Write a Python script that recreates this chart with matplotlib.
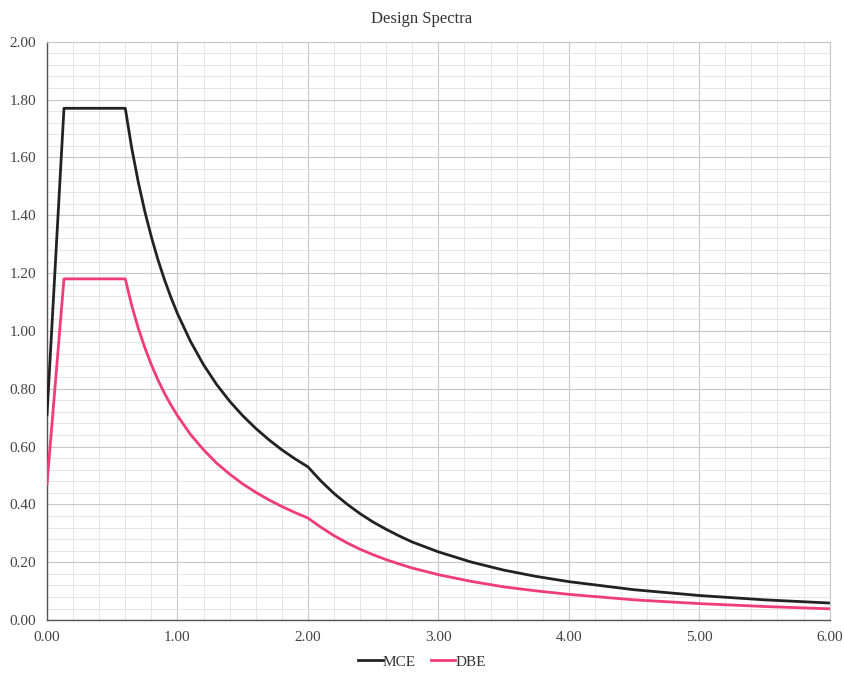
import numpy as np
import matplotlib
matplotlib.use("Agg")
import matplotlib.pyplot as plt
from matplotlib.ticker import MultipleLocator, FormatStrFormatter

# Period T (s) and spectral acceleration (g)
period = [0.0, 0.13, 0.6, 0.65, 0.7, 0.75, 0.8, 0.85, 0.9, 0.95, 1.0, 1.1, 1.2, 1.3, 1.4, 1.5,
          1.6, 1.7, 1.8, 1.9, 2.0, 2.1, 2.2, 2.3, 2.4, 2.5, 2.6, 2.7, 2.8, 3.0, 3.25, 3.5, 3.75,
          4.0, 4.5, 5.0, 5.5, 6.0]
mce = [0.71, 1.77, 1.77, 1.631, 1.514, 1.413, 1.325, 1.247, 1.178, 1.116, 1.06, 0.964, 0.883,
       0.815, 0.757, 0.707, 0.663, 0.624, 0.589, 0.558, 0.53, 0.481, 0.438, 0.401, 0.368, 0.339,
       0.314, 0.291, 0.27, 0.236, 0.201, 0.173, 0.151, 0.133, 0.105, 0.085, 0.07, 0.059]
dbe = [0.47, 1.18, 1.18, 1.087, 1.009, 0.942, 0.883, 0.831, 0.785, 0.744, 0.707, 0.642, 0.589,
       0.543, 0.505, 0.471, 0.442, 0.416, 0.393, 0.372, 0.353, 0.321, 0.292, 0.267, 0.245, 0.226,
       0.209, 0.194, 0.18, 0.157, 0.134, 0.115, 0.101, 0.089, 0.07, 0.057, 0.047, 0.039]

plt.rcParams['font.family'] = ['Liberation Serif', 'DejaVu Serif']

fig = plt.figure(figsize=(8.44, 6.74), dpi=100)
ax = fig.add_axes([0.0557, 0.080, 0.9273, 0.858])

ax.plot(period, mce, color='#222222', lw=2.0, label='MCE', zorder=3)
ax.plot(period, dbe, color='#f03c78', lw=2.0, label='DBE', zorder=3)

ax.set_xlim(0, 6)
ax.set_ylim(0, 2)
ax.xaxis.set_major_locator(MultipleLocator(1.0))
ax.xaxis.set_minor_locator(MultipleLocator(0.2))
ax.yaxis.set_major_locator(MultipleLocator(0.2))
ax.yaxis.set_minor_locator(MultipleLocator(0.04))
ax.xaxis.set_major_formatter(FormatStrFormatter('%.2f'))
ax.yaxis.set_major_formatter(FormatStrFormatter('%.2f'))

ax.grid(which='major', color='#c8c8c8', lw=0.8)
ax.grid(which='minor', color='#e2e2e2', lw=0.6)
ax.set_axisbelow(True)

ax.tick_params(which='both', length=0, labelsize=11, labelcolor='#444444', pad=8)
for side in ['left', 'bottom']:
    ax.spines[side].set_color('#555555')
    ax.spines[side].set_linewidth(1.0)
for side in ['top', 'right']:
    ax.spines[side].set_color('#c8c8c8')
    ax.spines[side].set_linewidth(0.8)

fig.text(0.5, 0.972, 'Design Spectra', ha='center', va='center', fontsize=12, color='#333333')

fig.legend(loc='center', bbox_to_anchor=(0.5, 0.018), ncol=2, frameon=False,
           handlelength=1.6, handletextpad=0.0, columnspacing=1.0, fontsize=11,
           labelcolor='#333333')

fig.savefig('out.png', dpi=100)
